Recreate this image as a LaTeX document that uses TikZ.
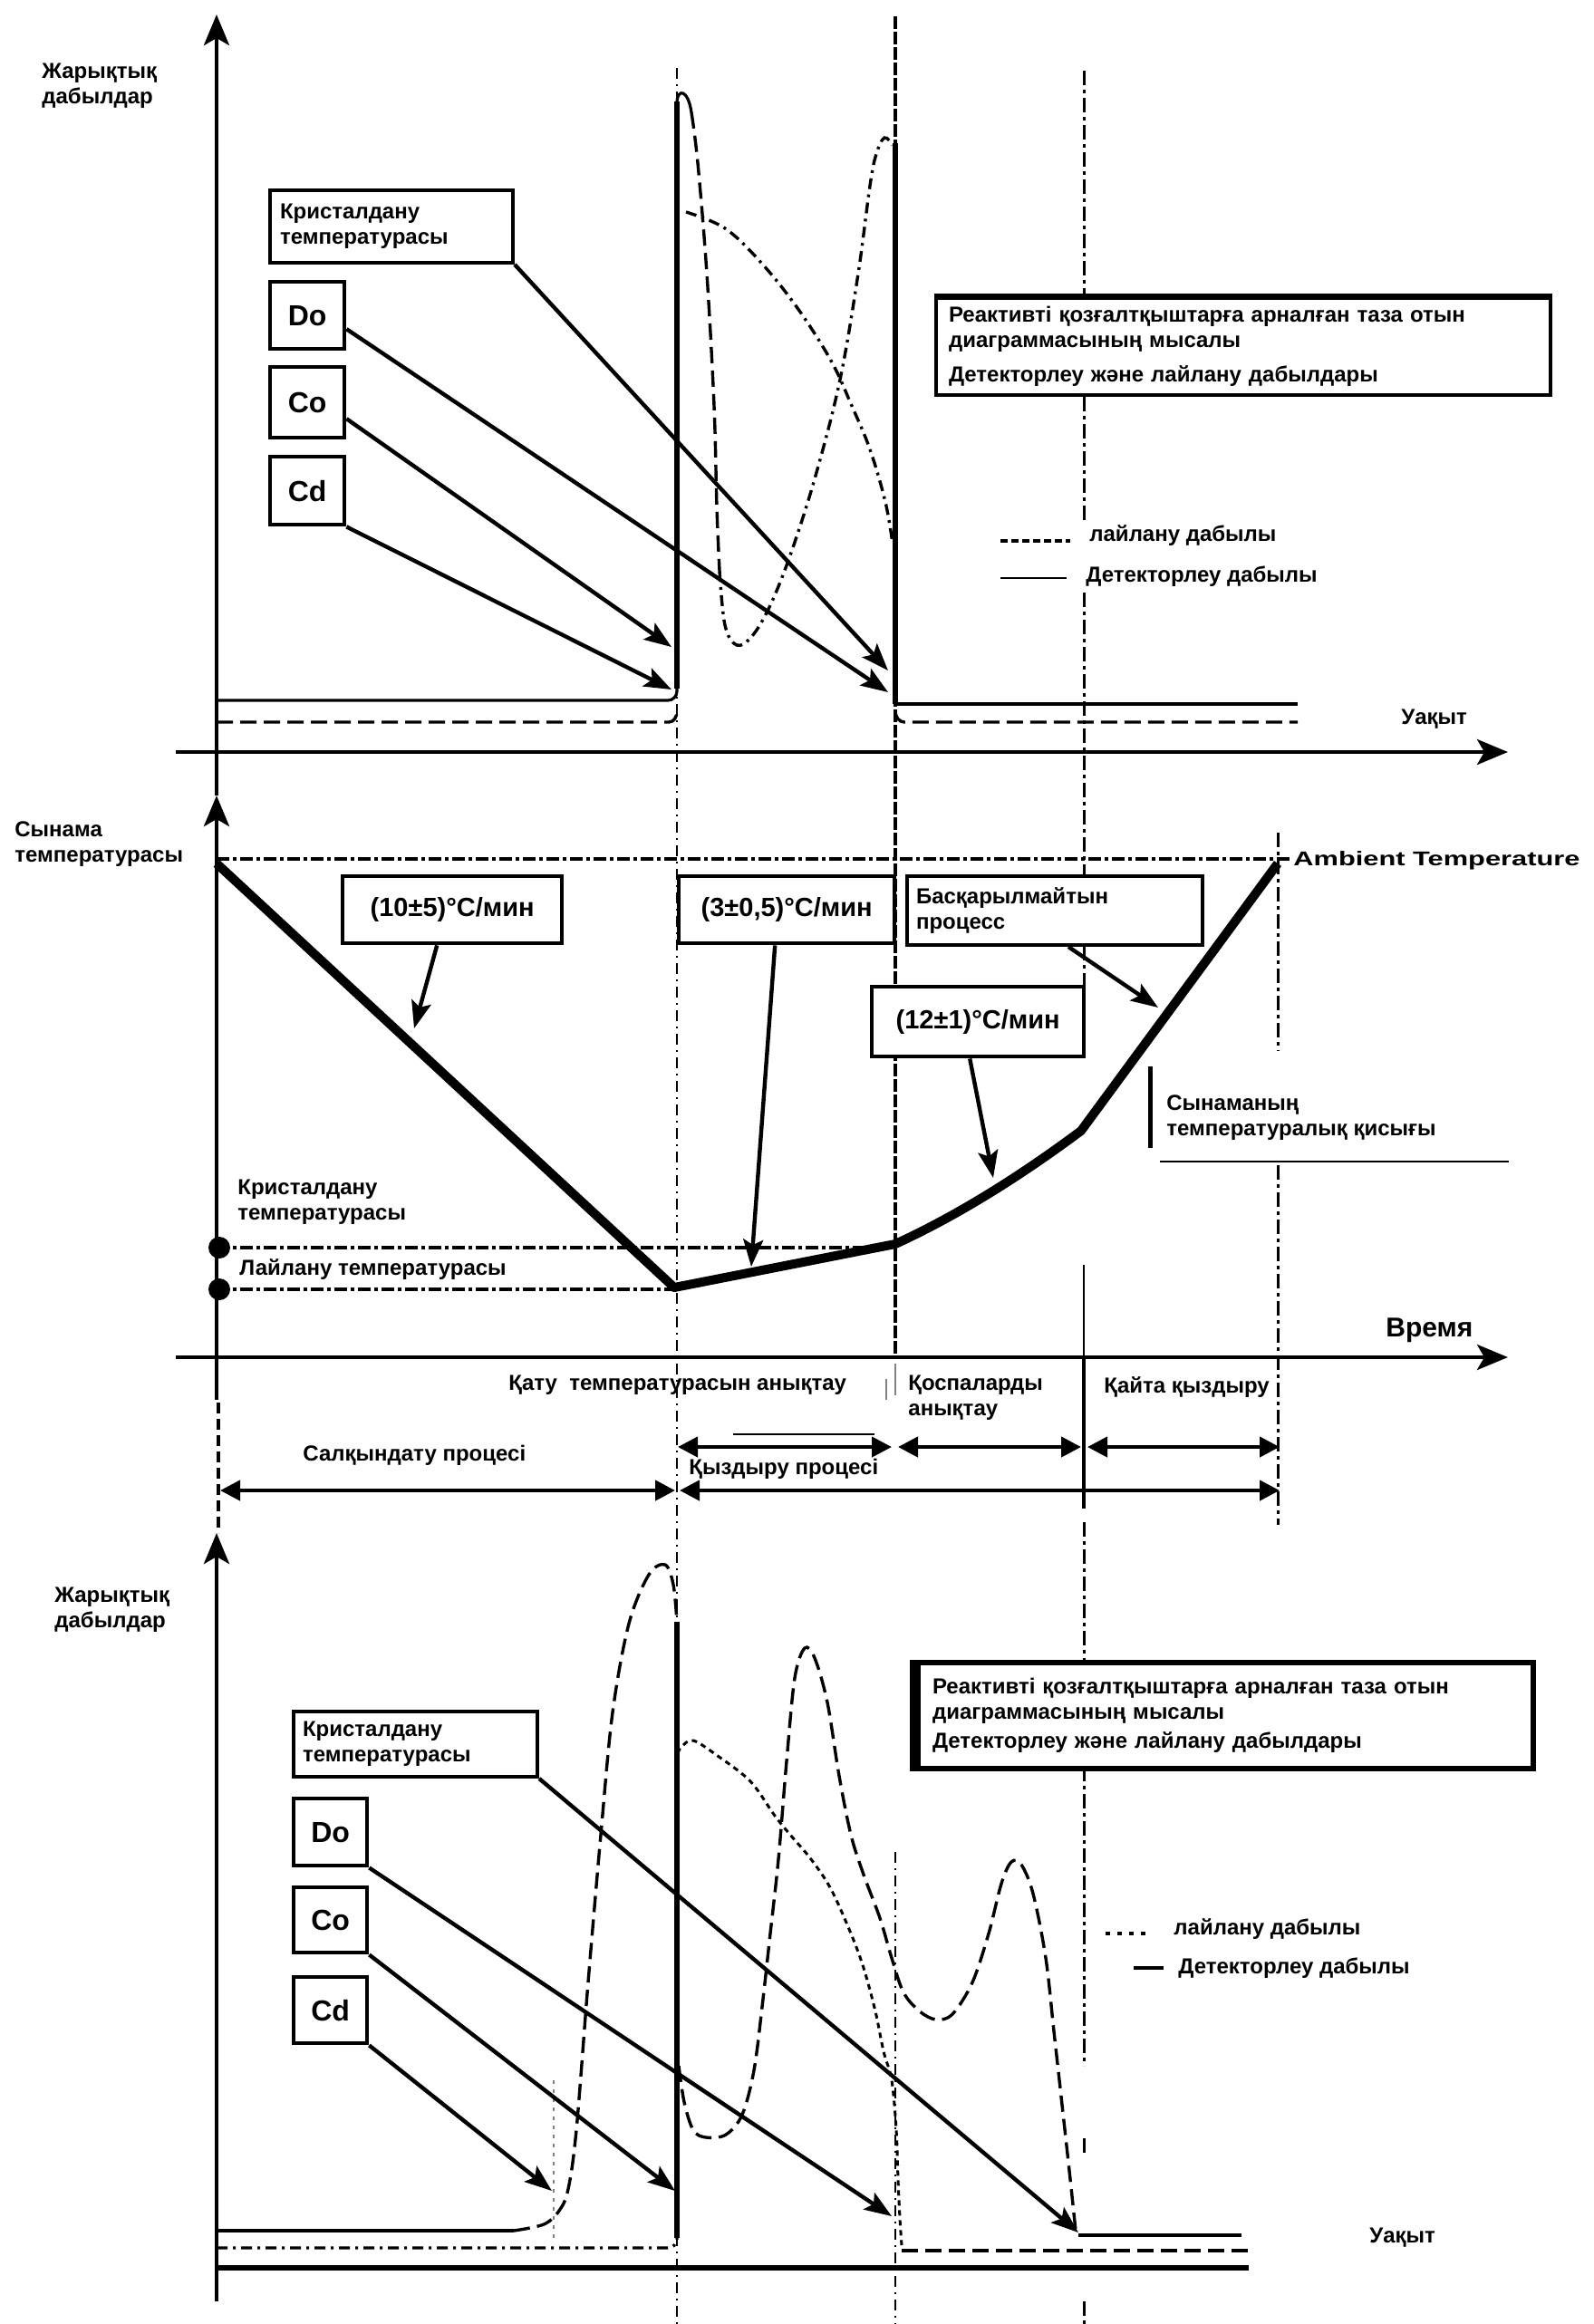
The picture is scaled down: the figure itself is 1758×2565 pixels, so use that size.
\documentclass[tikz,border=0pt]{standalone}
\usepackage{fontspec}
\setmainfont{Liberation Sans}
\usepackage{graphicx}
\usetikzlibrary{arrows.meta}
\begin{document}
\begin{tikzpicture}[x=0.5pt,y=-0.5pt,
 lbl/.style={font=\bfseries\fontsize{12}{14}\selectfont, inner sep=0pt, align=left, anchor=west},
 boxn/.style={draw, line width=2pt, fill=white, font=\bfseries\fontsize{12}{14}\selectfont, align=left, inner ysep=0pt, anchor=north west},
 bigbox/.style={draw, line width=2.2pt, fill=white, font=\bfseries\fontsize{16}{18}\selectfont, inner sep=0pt, anchor=north west},
 ratebox/.style={draw, line width=2.2pt, fill=white, font=\bfseries\fontsize{14.5}{16}\selectfont, inner sep=0pt, anchor=north west},
 axisline/.style={line width=2.2pt, -{Stealth[length=17pt,width=14pt,inset=4pt]}},
 ptr/.style={line width=2.2pt, -{Stealth[length=15pt,width=11pt,inset=3pt]}},
 dbl/.style={line width=2.2pt, {Triangle[length=11pt,width=11pt]}-{Triangle[length=11pt,width=11pt]}},
 vthin/.style={line width=1pt, dash pattern=on 6pt off 3pt on 1pt off 3pt},
 vthick/.style={line width=1.8pt, dash pattern=on 7pt off 1.5pt},
 vmid/.style={line width=1.5pt, dash pattern=on 8pt off 2.5pt on 2pt off 2.5pt},
 sigsolid/.style={line width=1.6pt},
 sigdash/.style={line width=1.7pt, dash pattern=on 9pt off 4pt},
 sigdd/.style={line width=1.7pt, dash pattern=on 6pt off 3pt on 1.5pt off 3pt},
 tline/.style={line width=2pt, dash pattern=on 7pt off 2pt on 2pt off 2pt}
]
\useasboundingbox (0,0) rectangle (1758,2565);
\fill[white] (0,0) rectangle (1758,2565);

% ---------- vertical guide lines ----------
\draw[vthin] (747,75) -- (747,2565);
\draw[vthick] (988,18) -- (988,1500);
\draw[line width=0.8pt, gray] (988,1505) -- (988,1540);
\draw[line width=0.8pt, gray] (978,1522) -- (978,1545);
\draw[vthin] (988,2044) -- (988,2565);
\draw[vmid] (1196,78) -- (1196,575);
\draw[vmid] (1196,654) -- (1196,1160);
\draw[line width=1.2pt] (1196,1396) -- (1196,1500);
\draw[line width=1.8pt] (1196,1500) -- (1196,1665);
\draw[vmid] (1196,1680) -- (1196,2280);
\draw[vmid] (1196,2360) -- (1196,2378);
\draw[vmid] (1196,2540) -- (1196,2565);
\draw[vmid] (1410,919) -- (1410,1160);
\draw[vmid] (1410,1286) -- (1410,1683);
\draw[line width=0.8pt, dash pattern=on 2pt off 3pt, gray] (611,2296) -- (611,2470);

% ---------- axes ----------
\draw[axisline] (239,878) -- (239,16);
\draw[axisline] (194,830) -- (1664,830);
\draw[axisline] (239,1545) -- (239,878);
\draw[axisline] (194,1498) -- (1664,1498);
\draw[line width=1.6pt, dash pattern=on 6pt off 3pt] (241,1548) -- (241,1692);
\draw[axisline] (239,2540) -- (239,1692);
\draw[line width=3pt] (239,2503) -- (1378,2503);

% ---------- top panel signals ----------
\draw[sigsolid, rounded corners=5pt] (239,773) -- (747,773) -- (747,112);
\draw[line width=2.6pt] (747,760) -- (747,112);
\draw[sigsolid] (747,112) .. controls (748,98) and (759,98) .. (763,124);
\draw[sigdash] plot[smooth, tension=0.6] coordinates {(763,124) (770,180) (780,302) (788,448) (791,560) (794,630)};
\draw[sigdd] plot[smooth, tension=0.6] coordinates {(794,630) (800,690) (813,712) (830,702) (850,668) (873,610) (900,525) (927,419) (947,302) (960,205) (967,170) (976,152) (985,160)};
\draw[sigdd] plot[smooth, tension=0.6] coordinates {(757,234) (800,252) (840,290) (880,340) (917,398) (940,448) (960,496) (977,554) (985,600)};
\draw[line width=2.6pt] (988,158) -- (988,777);
\draw[sigsolid] (988,777) -- (1432,777);
\draw[sigdash] (239,797) -- (738,797) to[out=0,in=-90] (747,785);
\draw[sigdash] (988,785) to[out=-90,in=180] (998,797) -- (1432,797);

% top legend
\draw[line width=1.6pt, dash pattern=on 4pt off 2pt] (1104,597) -- (1181,597);
\draw[line width=1.4pt] (1104,638) -- (1177,638);
\node[lbl] (leg1a) at (1202,591) {лайлану дабылы};
\node[lbl] (leg1b) at (1198,636) {Детекторлеу дабылы};
\node[lbl] (ut1) at (1546,794) {Уақыт};
\node[lbl] (ylab1) at (46,95) {Жарықтық\\дабылдар};

% top boxes
\node[boxn, minimum width=134pt, minimum height=40pt, text width=123pt, inner xsep=5.5pt] (kt1) at (296,208) {Кристалдану\\температурасы};
\node[bigbox, minimum width=41pt, minimum height=37pt] (do1) at (296,309) {Do};
\node[bigbox, minimum width=41pt, minimum height=39pt] (co1) at (296,403) {Co};
\node[bigbox, minimum width=41pt, minimum height=37.5pt] (cd1) at (296,502) {Cd};
\node[boxn, minimum width=339pt, minimum height=53.5pt, text width=325pt, inner xsep=7pt] (rt1) at (1031,327) {Реактивті қозғалтқыштарға арналған таза отын\\диаграммасының мысалы\\[5pt]Детекторлеу және лайлану дабылдары};
\draw[line width=3pt] (rt1.north west) -- (rt1.north east);

\coordinate (t1) at (980,740);
\coordinate (t2) at (980,764);
\coordinate (t3) at (741,714);
\coordinate (t4) at (741,761);
\draw[ptr] (kt1.south east) -- (t1);
\draw[ptr] ([yshift=-7.5pt]do1.east) -- (t2);
\draw[ptr] ([yshift=-9pt]co1.east) -- (t3);
\draw[ptr] (cd1.south east) -- (t4);

% ---------- middle panel ----------
\draw[tline] (239,948) -- (1425,948);
\node[lbl, font=\bfseries\fontsize{11}{13}\selectfont] (amb) at (1427,950) {\scalebox{1.4}[1]{Ambient Temperature}};
\draw[tline] (239,1377) -- (985,1377);
\draw[tline] (239,1423) -- (744,1423);
\fill (242,1377) circle (6pt);
\fill (242,1423) circle (6pt);
\draw[line width=5pt, line join=round] (239,953) -- (744,1421) -- (988,1373) .. controls (1060,1340) and (1130,1295) .. (1193,1248) -- (1410,953);

\node[lbl] (ylab2) at (16,932) {Сынама\\температурасы};
\node[lbl] (kt2) at (262,1327) {Кристалдану\\температурасы};
\node[lbl] (lt2) at (264,1401) {Лайлану температурасы};
\draw[line width=2.5pt] (1269,1177) -- (1269,1267);
\node[lbl] (sq) at (1287,1234) {Сынаманың\\температуралық қисығы};
\draw[line width=1.4pt] (1280,1282) -- (1665,1282);
\node[lbl, font=\bfseries\fontsize{15}{17}\selectfont] (vr) at (1529,1468) {Время};

\node[ratebox, minimum width=121pt, minimum height=37pt] (r1) at (376,965) {(10±5)°C/мин};
\node[ratebox, minimum width=119pt, minimum height=37pt] (r2) at (747,965) {(3±0,5)°C/мин};
\node[boxn, minimum width=163pt, minimum height=38pt, text width=153pt, inner xsep=5pt] (bp) at (999,965) {Басқарылмайтын\\процесс};
\node[ratebox, minimum width=117pt, minimum height=38.5pt] (r3) at (960,1087) {(12±1)°C/мин};

\coordinate (m1) at (457,1135);
\coordinate (m2) at (829,1398);
\coordinate (m3) at (1278,1112);
\coordinate (m4) at (1096,1300);
\draw[ptr] ([xshift=-8.5pt]r1.south) -- (m1);
\draw[ptr] ([xshift=-6.5pt]r2.south) -- (m2);
\draw[ptr] ([xshift=7.5pt]bp.south) -- (m3);
\draw[ptr] ([xshift=-4.5pt]r3.south) -- (m4);

% process labels and arrows
\node[lbl] (qt) at (561,1529) {Қату\ \ температурасын анықтау};
\node[lbl] (qa) at (1002,1543) {Қоспаларды\\анықтау};
\node[lbl] (qq) at (1218,1531) {Қайта қыздыру};
\node[lbl] (sp) at (334,1606) {Салқындату процесі};
\node[lbl] (kp) at (760,1621) {Қыздыру процесі};

\coordinate (a1) at (748,1597);
\coordinate (a2) at (984,1597);
\coordinate (a3) at (991,1597);
\coordinate (a4) at (1193,1597);
\coordinate (a5) at (1200,1597);
\coordinate (a6) at (1412,1597);
\coordinate (d1) at (243,1645);
\coordinate (d2) at (745,1645);
\coordinate (d3) at (750,1645);
\coordinate (d4) at (1412,1645);
\draw[dbl] (a1) -- (a2);
\draw[dbl] (a3) -- (a4);
\draw[dbl] (a5) -- (a6);
\draw[dbl] (d1) -- (d2);
\draw[dbl] (d3) -- (d4);
\draw[line width=1.3pt] (809,1583) -- (965,1583);

% ---------- bottom panel signals ----------
\draw[sigsolid] (239,2462) -- (567,2462);
\draw[sigdash] plot[smooth, tension=0.55] coordinates {(567,2462) (600,2455) (617,2440) (627,2416) (636,2351) (649,2188) (663,2025) (676,1890) (694,1792) (716,1738) (734,1727) (743,1749) (747,1790)};
\draw[sigdd, rounded corners=5pt] (239,2481) -- (747,2481) -- (747,2300);
\draw[line width=2.6pt] (747,2470) -- (747,1790);
\draw[line width=1.5pt, dash pattern=on 3pt off 2.5pt] plot[smooth, tension=0.55] coordinates {(748,1935) (752,1928) (765,1921) (792,1938) (828,1966) (855,2004) (872,2025) (895,2052) (917,2085) (939,2134) (953,2172) (966,2220) (975,2264) (984,2296) (989,2350) (991,2405) (993,2448) (995,2478)};
\draw[sigdash] (995,2484) -- (1378,2484);
\draw[sigdash] plot[smooth, tension=0.55] coordinates {(749,2280) (755,2320) (765,2351) (779,2359) (801,2356) (819,2334) (832,2285) (841,2215) (850,2134) (859,2052) (868,1944) (877,1852) (888,1819) (899,1830) (913,1879) (926,1960) (939,2025) (953,2069) (971,2117) (984,2161) (997,2199) (1015,2220) (1033,2229) (1051,2223) (1073,2188) (1091,2134) (1105,2079) (1116,2055) (1127,2058) (1140,2090) (1154,2161) (1163,2242) (1172,2323) (1181,2405) (1187,2462)};
\draw[sigsolid] (1190,2467) -- (1370,2467);

% bottom legend
\draw[line width=2.2pt, dash pattern=on 2.5pt off 4pt] (1220,2134) -- (1270,2134);
\draw[line width=1.8pt] (1251,2172) -- (1284,2172);
\node[lbl] (leg3a) at (1295,2129) {лайлану дабылы};
\node[lbl] (leg3b) at (1300,2172) {Детекторлеу дабылы};
\node[lbl] (ut3) at (1511,2470) {Уақыт};
\node[lbl] (ylab3) at (60,1777) {Жарықтық\\дабылдар};

% bottom boxes
\node[boxn, minimum width=134.5pt, minimum height=36pt, text width=124.5pt, inner xsep=5pt] (kt3) at (322,1887) {Кристалдану\\температурасы};
\node[bigbox, minimum width=40.5pt, minimum height=37pt] (do3) at (322,1983) {Do};
\node[bigbox, minimum width=40.5pt, minimum height=36pt] (co3) at (322,2081) {Co};
\node[bigbox, minimum width=40.5pt, minimum height=36.5pt] (cd3) at (322,2180) {Cd};
\node[boxn, line width=3pt, minimum width=342.5pt, minimum height=58.5pt, text width=320.5pt, inner xsep=11pt] (rt3) at (1004,1832) {Реактивті қозғалтқыштарға арналған таза отын\\диаграммасының мысалы\\[2pt]Детекторлеу және лайлану дабылдары};
\fill (rt3.north west) rectangle ([xshift=6pt]rt3.south west);

\coordinate (b1) at (1190,2464);
\coordinate (b2) at (984,2446);
\coordinate (b3) at (745,2418);
\coordinate (b4) at (609,2418);
\draw[ptr] (kt3.south east) -- (b1);
\draw[ptr] (do3.south east) -- (b2);
\draw[ptr] (co3.south east) -- (b3);
\draw[ptr] (cd3.south east) -- (b4);
\end{tikzpicture}
\end{document}
